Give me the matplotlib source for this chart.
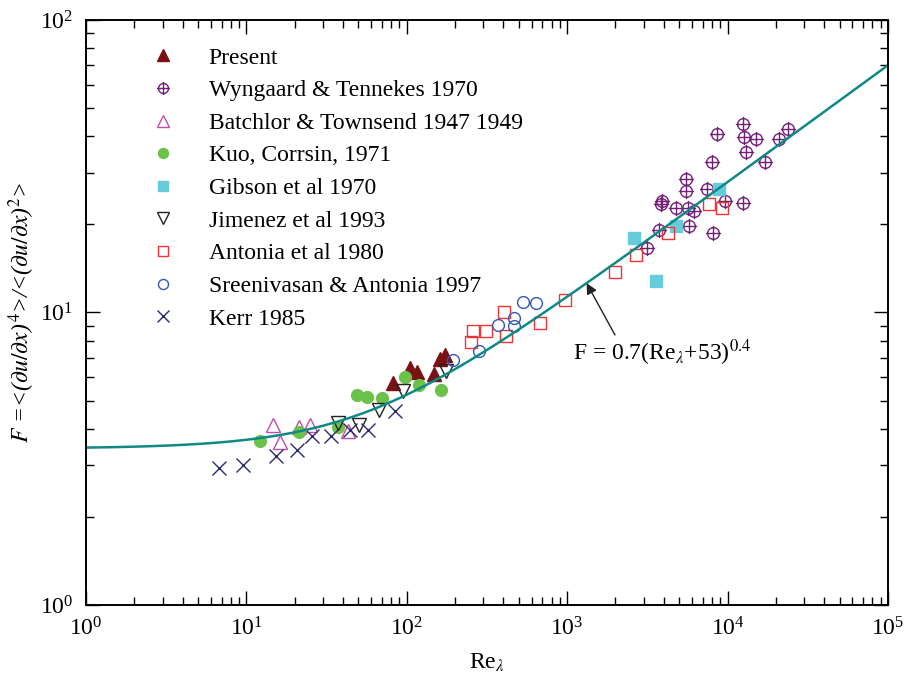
#!/usr/bin/env python3
"""
Flatness factor F vs Re_lambda, compared with literature data.
"""

import numpy as np
import matplotlib
matplotlib.use("Agg")
import matplotlib.pyplot as plt
from matplotlib.path import Path

plt.rcParams["font.family"] = ["Liberation Serif", "DejaVu Serif"]
plt.rcParams["mathtext.fontset"] = "stix"

# --- data ---------------------------------------------------------------
present_re = [82, 105, 115, 147, 161, 173]
present_f = [5.72, 6.45, 6.24, 6.14, 6.93, 7.15]

wyngaard_re = [12480, 8650, 12650, 15100, 23700, 20800, 12970, 7945, 17200,
               5505, 5505, 7400, 3890, 3835, 4753, 5690, 6170, 9610, 12480,
               3743, 5745, 8060, 3140]
wyngaard_f = [44.1, 40.6, 39.7, 39.1, 42.4, 39.2, 35.3, 32.6, 32.6,
              28.5, 26.1, 26.4, 24.1, 23.4, 22.8, 22.8, 22.2, 24.1, 23.7,
              19.2, 19.8, 18.7, 16.6]

batchelor_re = [14.6, 16.1, 21.4, 25.0, 42.8]
batchelor_f = [4.14, 3.60, 4.07, 4.11, 3.93]

kuo_re = [12.1, 21.2, 37.0, 49.2, 56.7, 70.3, 97.6, 120, 163]
kuo_f = [3.65, 3.90, 4.06, 5.21, 5.16, 5.09, 6.02, 5.64, 5.43]

gibson_re = [2594, 3586, 4753, 8850]
gibson_f = [18.0, 12.8, 19.8, 26.4]

jimenez_re = [37.5, 50.6, 67.3, 94.3, 176]
jimenez_f = [4.18, 4.12, 4.65, 5.39, 6.31]

antonia_re = [252, 258, 312, 405, 415, 677, 968, 1977, 2684, 4275, 7640, 9290]
antonia_f = [7.94, 8.66, 8.66, 10.0, 8.32, 9.18, 11.04, 13.8, 15.7, 18.7,
             23.4, 22.8]

sreeni_re = [194, 283, 369, 467, 467, 531, 637]
sreeni_f = [6.89, 7.36, 9.08, 9.58, 8.97, 10.9, 10.8]

kerr_re = [6.75, 9.5, 15.2, 20.6, 25.5, 33.6, 44.2, 57.5, 85]
kerr_f = [2.93, 3.01, 3.22, 3.40, 3.77, 3.77, 3.98, 3.98, 4.60]

# fit F = 0.7 (Re + 53)^0.4
fit_a, fit_b, fit_p = 0.7, 53.0, 0.4


def circle_plus():
    """open circle with a cross through it"""
    circ = Path.unit_circle()
    h = Path([(-1.3, 0), (1.3, 0)], [Path.MOVETO, Path.LINETO])
    v = Path([(0, -1.3), (0, 1.3)], [Path.MOVETO, Path.LINETO])
    return Path.make_compound_path(circ, h, v)


fig = plt.figure(figsize=(9.07, 6.75), dpi=100)
ax = fig.add_axes([0.0948, 0.1037, 0.8842, 0.8667])
ax.set_xscale("log")
ax.set_yscale("log")

ms = 8.5
ax.plot(present_re, present_f, "^", color="#7a1114", ms=ms + 1, ls="none",
        label="Present")
ax.plot(wyngaard_re, wyngaard_f, marker=circle_plus(), ls="none", ms=11,
        mfc="none", mec="#74207a", mew=1.0,
        label="Wyngaard & Tennekes 1970")
ax.plot(batchelor_re, batchelor_f, "^", ls="none", ms=ms + 1, mfc="none",
        mec="#c04ea8", mew=1.0, label="Batchlor & Townsend 1947 1949")
ax.plot(kuo_re, kuo_f, "o", ls="none", ms=ms, color="#6cc14a",
        label="Kuo, Corrsin, 1971")
ax.plot(gibson_re, gibson_f, "s", ls="none", ms=ms - 0.5, color="#66cbdb",
        label="Gibson et al 1970")
ax.plot(jimenez_re, jimenez_f, "v", ls="none", ms=ms + 1, mfc="none",
        mec="#222222", mew=1.0, label="Jimenez et al 1993")
ax.plot(antonia_re, antonia_f, "s", ls="none", ms=ms + 0.5, mfc="none",
        mec="#ee3333", mew=1.0, label="Antonia et al 1980")
ax.plot(sreeni_re, sreeni_f, "o", ls="none", ms=ms, mfc="none",
        mec="#3556b5", mew=1.0, label="Sreenivasan & Antonia 1997")
ax.plot(kerr_re, kerr_f, "x", ls="none", ms=ms + 1, color="#2b2a6e",
        mew=1.0, label="Kerr 1985")

re = np.logspace(0, 5, 400)
ax.plot(re, fit_a * (re + fit_b) ** fit_p, color="#0f8986", lw=1.8)

# arrow and label for the fit
ax.annotate("", xy=(1322, 12.6), xytext=(1986, 8.38),
            arrowprops=dict(arrowstyle="-|>", color="#222222", lw=1.0,
                            shrinkA=0, shrinkB=0, mutation_scale=16))
ax.text(1087, 7.3, r"F = 0.7(Re$_{\lambda}$+53)$^{0.4}$",
        ha="left", va="center", fontsize=17)

ax.set_xlim(1, 1e5)
ax.set_ylim(1, 100)
ax.set_xlabel(r"Re$_{\lambda}$", fontsize=17, labelpad=8)
ax.set_ylabel(r"$F$ =<($\partial u/\partial x$)$^{\,4}$>/<($\partial u/\partial x$)$^2$>",
              fontsize=17, style="italic", labelpad=2)

ax.tick_params(which="both", direction="in", top=True, right=True,
               labelsize=17, width=1.0)
ax.tick_params(which="major", length=10, pad=9)
ax.tick_params(which="minor", length=6)
for s in ax.spines.values():
    s.set_linewidth(1.4)

leg = ax.legend(loc="upper left", bbox_to_anchor=(0.055, 0.99),
                frameon=False, fontsize=17, handlelength=1.0,
                handletextpad=1.43, labelspacing=0.47, markerscale=0.85)

fig.savefig("out.png", dpi=100)
